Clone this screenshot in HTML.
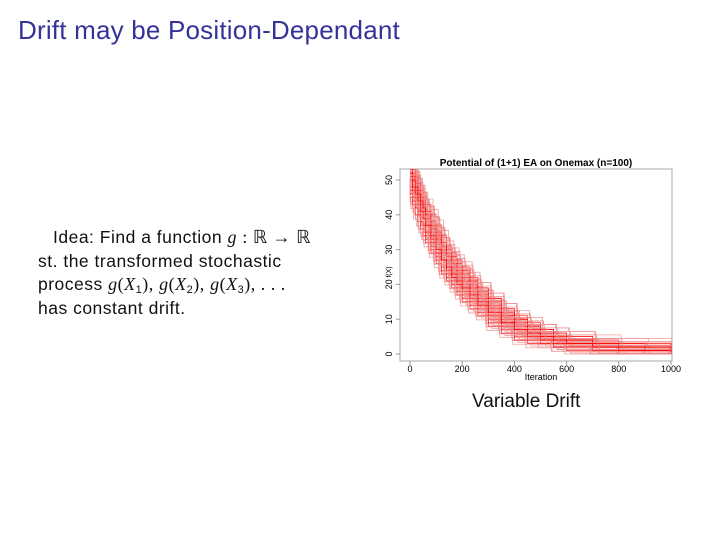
<!DOCTYPE html>
<html><head><meta charset="utf-8"><style>
body{margin:0;width:728px;height:546px;background:#fff;position:relative;overflow:hidden;font-family:"Liberation Sans",sans-serif}
#title{position:absolute;left:18px;top:15px;font-size:26px;color:#33339a;margin:0;font-weight:normal;letter-spacing:0.2px}
#idea{position:absolute;left:38px;top:226px;font-size:17.5px;line-height:23.5px;color:#111;letter-spacing:0.5px}
#idea sub{font-size:11px;line-height:0;vertical-align:-3px}
.m{font-family:"Liberation Serif",serif;font-style:italic;font-size:18px}
.r{font-family:"Liberation Serif",serif;font-size:18px}
#cap{position:absolute;left:472px;top:391px;font-size:19px;color:#111}
svg{position:absolute;left:0;top:0}
</style></head><body>
<h1 id="title">Drift may be Position-Dependant</h1>
<div id="idea"><span style="margin-left:15px">Idea: Find a function <span class="m">g</span> <span class="r">: ℝ → ℝ</span></span><br>st. the transformed stochastic<br>process <span class="m">g</span><span class="r">(</span><span class="m">X</span><sub>1</sub><span class="r">),</span> <span class="m">g</span><span class="r">(</span><span class="m">X</span><sub>2</sub><span class="r">),</span> <span class="m">g</span><span class="r">(</span><span class="m">X</span><sub>3</sub><span class="r">), . . .</span><br>has constant drift.</div>
<div id="cap">Variable Drift</div>
<svg id="chart" width="728" height="546"></svg>
<script>
const iterations=[0,10,20,30,40,50,60,80,100,120,140,160,180,200,230,260,300,350,400,450,500,550,600,700,800,900,1000];
const runs=[
[50,48,46,44,42,40,38,35,32,29,26,24,22,20,18,15,12,10,7,6,5,4,3,2,2,1,1],
[53,51,49,47,45,43,41,38,35,32,29,27,25,23,20,18,15,12,10,8,7,6,5,3,2,2,2],
[47,45,43,41,38,36,34,31,28,25,23,21,19,17,15,13,10,8,6,5,4,3,2,1,1,0,0],
[55,53,51,49,47,45,43,40,37,34,31,29,27,25,22,19,16,13,11,9,7,6,5,4,3,3,2],
[48,45,42,40,37,35,33,30,27,24,22,20,18,16,14,12,9,7,5,4,3,2,2,1,1,1,0],
[52,50,48,46,44,42,40,37,34,31,28,26,24,22,19,17,14,11,9,7,6,5,4,3,3,2,3],
[45,43,40,38,36,34,32,29,26,23,21,19,17,15,13,11,8,6,4,3,3,2,1,1,0,0,0],
[54,52,50,47,45,43,41,38,35,32,30,28,26,24,21,19,16,13,10,8,7,5,4,3,2,2,1],
[50,47,45,43,41,39,37,33,30,27,25,22,20,18,16,14,11,9,7,6,5,4,3,2,1,1,1],
[52,50,47,45,43,41,39,36,33,30,27,25,23,21,19,16,13,11,8,7,5,4,3,2,1,1,0],
[46,44,42,40,38,37,35,32,29,27,24,22,20,19,17,15,12,9,7,6,5,4,3,2,2,1,0],
[51,48,46,44,41,39,37,34,30,27,25,23,21,19,17,14,12,9,7,5,4,3,3,2,1,1,2]
];
const xTicks=[0,200,400,600,800,1000];
const yTicks=[0,10,20,30,40,50];
const NS="http://www.w3.org/2000/svg";
const svg=document.getElementById('chart');
const X=v=>410+v*(671-410)/1000;
const Y=v=>354-v*(354-180)/50;
function el(t,a,p){const e=document.createElementNS(NS,t);for(const k in a)e.setAttribute(k,a[k]);(p||svg).appendChild(e);return e;}
const frame=el('rect',{x:400,y:169,width:272,height:192,fill:'none',stroke:'#aaa','stroke-width':1});


const t=el('text',{x:536,y:166,'text-anchor':'middle','font-size':10,'font-weight':'bold','font-family':'Liberation Sans, sans-serif'});
t.textContent='Potential of (1+1) EA on Onemax (n=100)';


const clip=el('clipPath',{id:'cp'});el('rect',{x:400,y:169,width:272,height:192},clip);
const g=el('g',{'clip-path':'url(#cp)'});
const shifts=[[0,0],[8,1.5],[-6,-1.2],[14,-0.7]];
runs.forEach((r,i)=>{
  shifts.forEach((s,o)=>{
    let d='';
    r.forEach((v,j)=>{const vv=Math.max(0,v+s[1]);const x=X(Math.max(0,iterations[j]+s[0]*(j>0?1+(i%3)*0.4:0)));const y=Y(vv);
      d+=j===0?`M${x},${y}`:`H${x}V${y}`;});
    d+=`H${X(1000)}`;
    const p=el('path',{d:d,fill:'none',stroke:o===0?'#f00':'#e88','stroke-width':0.8,'stroke-opacity':0.8},g);
    
    
  });
});
xTicks.forEach(v=>{
  el('line',{x1:X(v),x2:X(v),y1:361,y2:365,stroke:'#999'});
  const tx=el('text',{x:X(v),y:372,'text-anchor':'middle','font-size':9,'font-family':'Liberation Sans, sans-serif'});
  tx.textContent=v;
  
  
});
yTicks.forEach(v=>{
  el('line',{x1:396,x2:400,y1:Y(v),y2:Y(v),stroke:'#999'});
  const ty=el('text',{x:0,y:0,'text-anchor':'middle','font-size':9,'font-family':'Liberation Sans, sans-serif',transform:`translate(392,${Y(v)}) rotate(-90)`});
  ty.textContent=v;
  
  
});
const xl=el('text',{x:541,y:380,'text-anchor':'middle','font-size':9,'font-family':'Liberation Sans, sans-serif'});
xl.textContent='Iteration';


const yl=el('text',{x:0,y:0,'text-anchor':'middle','font-size':7,'font-family':'Liberation Sans, sans-serif',transform:'translate(391,272) rotate(-90)'});
yl.textContent='f(X)';


</script>
</body></html>
